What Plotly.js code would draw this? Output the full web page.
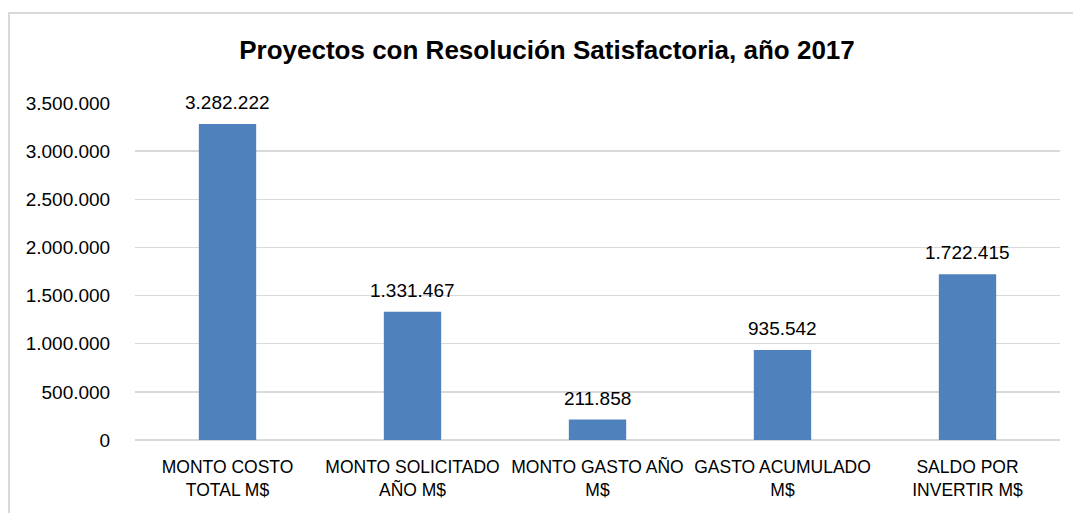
<!DOCTYPE html>
<html><head><meta charset="utf-8">
<script src="https://cdn.plot.ly/plotly-3.0.1.min.js"></script>
<style>html,body{margin:0;padding:0;background:#fff;}#chart{width:1073px;height:513px;}</style>
</head><body><div id="chart"></div>
<script>
const categories = ["MONTO COSTO<br>TOTAL M$", "MONTO SOLICITADO<br>AÑO M$", "MONTO GASTO AÑO<br>M$", "GASTO ACUMULADO<br>M$", "SALDO POR<br>INVERTIR M$"];
const values = [3282222, 1331467, 211858, 935542, 1722415];
const valueLabels = ["3.282.222", "1.331.467", "211.858", "935.542", "1.722.415"];
const tickVals = [0, 500000, 1000000, 1500000, 2000000, 2500000, 3000000, 3500000];
const tickText = ["0", "500.000", "1.000.000", "1.500.000", "2.000.000", "2.500.000", "3.000.000", "3.500.000"];

const FONT = "'Liberation Sans Narrow', 'Arial Narrow', 'Liberation Sans', Arial, sans-serif";
const W = 1073, H = 513, L = 135, R = 13, T = 103, B = 73;
const pw = W - L - R, ph = H - T - B;
const px = v => (v - L) / pw, py = v => (H - B - v) / ph;

Plotly.newPlot('chart', [{
  type: 'bar', x: categories, y: values,
  marker: {color: '#4F81BD'},
  hoverinfo: 'none'
}], {
  width: W, height: H,
  margin: {l: L, r: R, t: T, b: B},
  separators: ',.',
  paper_bgcolor: '#fff', plot_bgcolor: '#fff',
  bargap: 0.69,
  title: {text: '<b>Proyectos con Resolución Satisfactoria, año 2017</b>', font: {family: FONT, size: 26, color: '#000'}, x: 547 / W, xref: 'container', xanchor: 'center', y: 1 - 50 / H, yref: 'container', yanchor: 'middle'},
  xaxis: {tickfont: {family: FONT, size: 17.5, color: '#000'}, tickangle: 0, showline: false, ticks: 'outside', ticklen: 11, tickcolor: 'rgba(0,0,0,0)', automargin: false},
  yaxis: {range: [0, 3500000], tickvals: tickVals, ticktext: tickText, tickfont: {family: FONT, size: 19, color: '#000'},
    gridcolor: '#d9d9d9', gridwidth: 1.5, zeroline: true, zerolinecolor: '#d9d9d9', zerolinewidth: 1.5, showline: false, ticks: 'outside', ticklen: 20, tickcolor: 'rgba(0,0,0,0)', automargin: false, fixedrange: true},
  annotations: categories.map((c, i) => ({x: c, y: values[i], xref: 'x', yref: 'y', text: valueLabels[i], showarrow: false, yanchor: 'bottom', yshift: 9, font: {family: FONT, size: 19, color: '#000'}})),
  shapes: [{type: 'rect', xref: 'paper', yref: 'paper', x0: px(9), x1: px(1080), y0: py(13), y1: py(520), line: {color: '#d9d9d9', width: 2}, fillcolor: 'rgba(0,0,0,0)', layer: 'below'}],
  showlegend: false
}, {displayModeBar: false, staticPlot: true});
</script></body></html>
